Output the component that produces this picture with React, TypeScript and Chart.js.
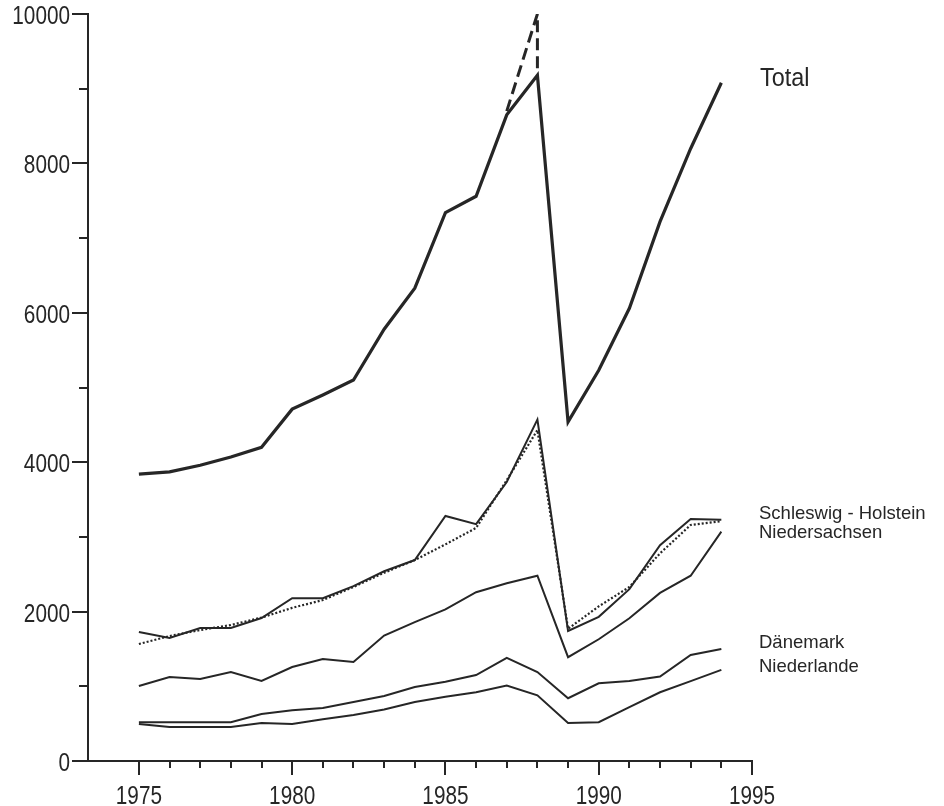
import React, { useEffect, useRef } from 'react';
import { Chart, registerables } from 'chart.js';

Chart.register(...registerables);

// ---- data ----
const years = [1975, 1976, 1977, 1978, 1979, 1980, 1981, 1982, 1983, 1984, 1985, 1986, 1987, 1988, 1989, 1990, 1991, 1992, 1993, 1994];

const total = [3840, 3870, 3960, 4070, 4200, 4710, 4900, 5100, 5780, 6330, 7340, 7560, 8650, 9180, 4540, 5230, 6060, 7220, 8200, 9080];

const totalPeakYears = [1987, 1988, 1988];
const totalPeakValues = [8700, 10000, 9200];

const schleswigHolstein = [1727, 1647, 1780, 1780, 1914, 2180, 2180, 2340, 2540, 2690, 3280, 3170, 3735, 4570, 1740, 1930, 2300, 2890, 3240, 3230];

const schleswigHolsteinDotted = [1566, 1673, 1753, 1820, 1920, 2050, 2155, 2330, 2520, 2690, 2900, 3120, 3760, 4430, 1770, 2070, 2330, 2780, 3160, 3210];

const niedersachsen = [1004, 1124, 1098, 1191, 1071, 1258, 1365, 1325, 1680, 1860, 2030, 2260, 2380, 2480, 1390, 1630, 1910, 2250, 2480, 3070];

const daenemark = [520, 520, 520, 520, 630, 680, 710, 790, 870, 990, 1060, 1150, 1380, 1190, 840, 1040, 1070, 1130, 1420, 1500];

const niederlande = [495, 455, 455, 455, 510, 495, 560, 615, 690, 790, 860, 920, 1010, 880, 510, 520, 720, 920, 1070, 1220];

const xTickYears = [1975, 1976, 1977, 1978, 1979, 1980, 1981, 1982, 1983, 1984, 1985, 1986, 1987, 1988, 1989, 1990, 1991, 1992, 1993, 1994, 1995];
const xLabelYears = [1975, 1980, 1985, 1990, 1995];
const yTickValues = [0, 1000, 2000, 3000, 4000, 5000, 6000, 7000, 8000, 9000, 10000];
const yLabelValues = [0, 2000, 4000, 6000, 8000, 10000];

const seriesLabels = ['Total', 'Schleswig - Holstein', 'Niedersachsen', 'Dänemark', 'Niederlande'];
const seriesLabelValues = [9036, 3240, 2985, 1513, 1191];

const INK = '#262626';
const FONT = '"Liberation Sans", Arial, sans-serif';

const pts = (xs: number[], ys: number[]) => xs.map((x, i) => ({ x, y: ys[i] }));

function drawText(ctx: CanvasRenderingContext2D, text: string, x: number, y: number, sx: number) {
  ctx.save();
  ctx.translate(x, y);
  ctx.scale(sx, 1);
  ctx.fillText(text, 0, 0);
  ctx.restore();
}

const axisTicksPlugin = {
  id: 'axisTicks',
  afterDraw(chart: any) {
    const { ctx } = chart;
    const xs = chart.scales.x;
    const ys = chart.scales.y;
    ctx.save();
    ctx.strokeStyle = INK;
    ctx.fillStyle = INK;
    ctx.lineWidth = 2;
    ctx.lineCap = 'butt';
    // x ticks (below axis)
    xTickYears.forEach((yr) => {
      const px = Math.round(xs.getPixelForValue(yr));
      const major = xLabelYears.includes(yr);
      ctx.beginPath();
      ctx.moveTo(px, ys.bottom);
      ctx.lineTo(px, ys.bottom + (major ? 14 : 7));
      ctx.stroke();
    });
    // y ticks (left of axis)
    yTickValues.forEach((v) => {
      const py = Math.round(ys.getPixelForValue(v));
      const major = yLabelValues.includes(v);
      ctx.beginPath();
      ctx.moveTo(xs.left, py);
      ctx.lineTo(xs.left - (major ? 16 : 9), py);
      ctx.stroke();
    });
    // tick labels
    ctx.font = `25px ${FONT}`;
    ctx.textBaseline = 'alphabetic';
    ctx.textAlign = 'center';
    xLabelYears.forEach((yr) => {
      drawText(ctx, String(yr), xs.getPixelForValue(yr), ys.bottom + 43, 0.83);
    });
    ctx.textAlign = 'right';
    yLabelValues.forEach((v) => {
      drawText(ctx, String(v), xs.left - 18, ys.getPixelForValue(v) + 10, 0.83);
    });
    // series labels at the right
    ctx.textAlign = 'left';
    seriesLabels.forEach((label, i) => {
      if (i === 0) {
        ctx.font = `26px ${FONT}`;
        drawText(ctx, label, xs.right + 8, ys.getPixelForValue(seriesLabelValues[i]), 0.9);
      } else {
        ctx.font = `18.5px ${FONT}`;
        drawText(ctx, label, xs.right + 7, ys.getPixelForValue(seriesLabelValues[i]), 1);
      }
    });
    ctx.restore();
  },
};

export default function App() {
  const canvasRef = useRef<HTMLCanvasElement | null>(null);

  useEffect(() => {
    const canvas = canvasRef.current;
    if (!canvas) return;
    const lineDs = (label: string, data: number[], extra: any = {}) => ({
      label,
      data: pts(years, data),
      borderColor: INK,
      borderWidth: 2,
      pointRadius: 0,
      tension: 0,
      fill: false,
      ...extra,
    });
    const chart = new Chart(canvas, {
      type: 'line',
      data: {
        datasets: [
          lineDs('Total', total, { borderWidth: 3.2 }),
          {
            label: 'Total (Spitze)',
            data: pts(totalPeakYears, totalPeakValues),
            borderColor: INK,
            borderWidth: 3,
            borderDash: [12, 6],
            pointRadius: 0,
            tension: 0,
            fill: false,
          },
          lineDs('Schleswig - Holstein', schleswigHolstein),
          lineDs('Schleswig - Holstein (gepunktet)', schleswigHolsteinDotted, { borderDash: [2, 2], borderWidth: 2.2 }),
          lineDs('Niedersachsen', niedersachsen),
          lineDs('Dänemark', daenemark),
          lineDs('Niederlande', niederlande),
        ],
      },
      options: {
        animation: false,
        responsive: false,
        maintainAspectRatio: false,
        layout: { padding: { left: 0, top: 14, right: 192, bottom: 0 } },
        plugins: {
          legend: { display: false },
          tooltip: { enabled: false },
          title: { display: false },
        },
        scales: {
          x: {
            type: 'linear',
            min: 1973.34,
            max: 1995,
            afterFit: (scale: any) => {
              scale.height = 45;
              scale.paddingLeft = 0;
              scale.paddingRight = 0;
            },
            grid: { display: false, drawTicks: false },
            border: { display: true, color: INK, width: 2 },
            ticks: { display: false },
          },
          y: {
            type: 'linear',
            min: 0,
            max: 10000,
            afterFit: (scale: any) => {
              scale.width = 88;
              scale.paddingTop = 0;
              scale.paddingBottom = 0;
            },
            grid: { display: false, drawTicks: false },
            border: { display: true, color: INK, width: 2 },
            ticks: { display: false },
          },
        },
      },
      plugins: [axisTicksPlugin],
    });
    return () => chart.destroy();
  }, []);

  return (
    <div style={{ position: 'fixed', left: 0, top: 0, width: 944, height: 806, background: '#fff' }}>
      <canvas ref={canvasRef} width={944} height={806} style={{ display: 'block' }} />
    </div>
  );
}
